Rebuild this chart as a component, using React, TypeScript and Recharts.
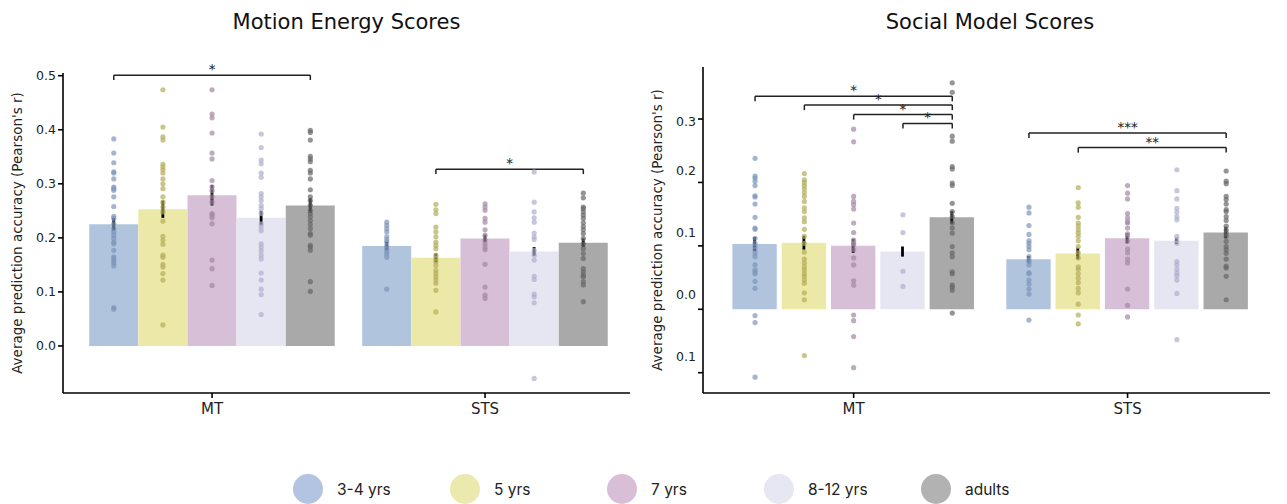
import React from "react";
import { Bar, Cell, ComposedChart, ErrorBar, ReferenceLine, Scatter, XAxis, YAxis } from "recharts";

const regions = ["MT", "STS"];
const groups = ["3-4 yrs", "5 yrs", "7 yrs", "8-12 yrs", "adults"];
const barColors = ["#b0c4de", "#ebe8a8", "#d8bfd8", "#e6e6f2", "#a9a9a9"];
const dotColors = ["#7d95ba", "#b3ae5a", "#a387a3", "#aeaecd", "#666666"];
const legendColors = ["#b3c3e2", "#ece9ae", "#d8bfd7", "#e7e7f4", "#b2b2b2"];

// Motion Energy Scores
const motionMeansMT = [0.225, 0.253, 0.279, 0.237, 0.26];
const motionMeansSTS = [0.185, 0.163, 0.199, 0.175, 0.191];
const motionSemMT = [0.012, 0.016, 0.019, 0.013, 0.014];
const motionSemSTS = [0.008, 0.008, 0.007, 0.008, 0.008];

const motionDotsMT = [
  [0.383, 0.357, 0.339, 0.322, 0.32, 0.309, 0.294, 0.291, 0.288, 0.276, 0.258, 0.24, 0.236, 0.226, 0.217, 0.211, 0.205, 0.199, 0.192, 0.189, 0.177, 0.165, 0.161, 0.157, 0.153, 0.148, 0.071, 0.068],
  [0.474, 0.405, 0.387, 0.381, 0.336, 0.331, 0.326, 0.32, 0.309, 0.3, 0.291, 0.276, 0.266, 0.257, 0.248, 0.231, 0.203, 0.196, 0.188, 0.168, 0.164, 0.151, 0.146, 0.134, 0.122, 0.039],
  [0.474, 0.429, 0.422, 0.394, 0.357, 0.346, 0.306, 0.294, 0.287, 0.276, 0.266, 0.245, 0.242, 0.237, 0.226, 0.159, 0.143, 0.112],
  [0.392, 0.367, 0.344, 0.337, 0.32, 0.312, 0.282, 0.276, 0.269, 0.26, 0.254, 0.245, 0.226, 0.22, 0.213, 0.189, 0.183, 0.176, 0.168, 0.161, 0.135, 0.122, 0.105, 0.095, 0.058],
  [0.399, 0.395, 0.381, 0.351, 0.346, 0.341, 0.325, 0.32, 0.309, 0.289, 0.276, 0.269, 0.26, 0.251, 0.245, 0.239, 0.232, 0.225, 0.217, 0.208, 0.205, 0.186, 0.183, 0.177, 0.119, 0.101],
];
const motionDotsSTS = [
  [0.229, 0.223, 0.217, 0.211, 0.202, 0.197, 0.192, 0.185, 0.18, 0.175, 0.17, 0.164, 0.105],
  [0.262, 0.252, 0.245, 0.22, 0.211, 0.202, 0.192, 0.186, 0.18, 0.168, 0.162, 0.156, 0.149, 0.14, 0.134, 0.128, 0.122, 0.116, 0.103, 0.063],
  [0.263, 0.257, 0.251, 0.236, 0.229, 0.215, 0.205, 0.196, 0.189, 0.183, 0.178, 0.151, 0.109, 0.094, 0.088],
  [0.322, 0.266, 0.248, 0.237, 0.229, 0.209, 0.202, 0.197, 0.177, 0.168, 0.159, 0.129, 0.123, 0.096, 0.091, 0.08, -0.06],
  [0.283, 0.274, 0.257, 0.254, 0.248, 0.242, 0.236, 0.228, 0.221, 0.215, 0.208, 0.199, 0.189, 0.18, 0.171, 0.162, 0.143, 0.137, 0.131, 0.128, 0.119, 0.113, 0.082],
];
const motionBrackets = [
  { region: 0, from: 0, to: 4, y: 0.501, label: "*" },
  { region: 1, from: 1, to: 4, y: 0.327, label: "*" },
];
const motionTicks = [0, 0.1, 0.2, 0.3, 0.4, 0.5];

// Social Model Scores
const socialMeansMT = [0.103, 0.105, 0.1, 0.091, 0.145];
const socialMeansSTS = [0.079, 0.088, 0.112, 0.108, 0.121];
const socialSemMT = [0.011, 0.011, 0.011, 0.008, 0.01];
const socialSemSTS = [0.005, 0.009, 0.008, 0.005, 0.009];

const socialDotsMT = [
  [0.238, 0.21, 0.207, 0.202, 0.195, 0.179, 0.177, 0.166, 0.145, 0.128, 0.126, 0.112, 0.104, 0.099, 0.094, 0.088, 0.083, 0.07, 0.062, 0.059, 0.056, 0.044, 0.033, -0.01, -0.021, -0.107],
  [0.214, 0.204, 0.2, 0.195, 0.19, 0.184, 0.178, 0.17, 0.16, 0.154, 0.144, 0.138, 0.126, 0.115, 0.104, 0.09, 0.079, 0.073, 0.067, 0.062, 0.056, 0.052, 0.046, 0.041, 0.026, 0.015, -0.073],
  [0.284, 0.264, 0.178, 0.17, 0.165, 0.158, 0.136, 0.121, 0.109, 0.104, 0.102, 0.094, 0.081, 0.07, 0.045, 0.038, -0.009, -0.018, -0.043, -0.092],
  [0.149, 0.121, 0.06, 0.036],
  [0.357, 0.342, 0.273, 0.265, 0.225, 0.221, 0.199, 0.195, 0.167, 0.154, 0.146, 0.136, 0.128, 0.12, 0.099, 0.089, 0.083, 0.059, 0.056, 0.038, 0.035, 0.03, -0.006],
];
const socialDotsSTS = [
  [0.161, 0.152, 0.132, 0.118, 0.108, 0.104, 0.099, 0.094, 0.083, 0.078, 0.075, 0.07, 0.058, 0.056, 0.046, 0.04, 0.032, 0.024, -0.017],
  [0.192, 0.168, 0.161, 0.145, 0.136, 0.131, 0.125, 0.12, 0.115, 0.108, 0.099, 0.089, 0.081, 0.067, 0.063, 0.056, 0.049, 0.042, 0.033, 0.026, 0.008, -0.009, -0.023],
  [0.195, 0.183, 0.174, 0.151, 0.144, 0.138, 0.136, 0.128, 0.119, 0.116, 0.108, 0.095, 0.089, 0.079, 0.073, 0.032, 0.006, -0.012],
  [0.22, 0.187, 0.174, 0.159, 0.153, 0.146, 0.141, 0.115, 0.109, 0.104, 0.075, 0.07, 0.063, 0.057, 0.053, 0.046, 0.025, -0.048],
  [0.218, 0.202, 0.198, 0.178, 0.173, 0.166, 0.157, 0.154, 0.146, 0.14, 0.131, 0.125, 0.12, 0.115, 0.107, 0.099, 0.094, 0.088, 0.079, 0.068, 0.065, 0.052, 0.015],
];
const socialBrackets = [
  { region: 0, from: 0, to: 4, y: 0.336, label: "*" },
  { region: 0, from: 1, to: 4, y: 0.322, label: "*" },
  { region: 0, from: 2, to: 4, y: 0.307, label: "*" },
  { region: 0, from: 3, to: 4, y: 0.293, label: "*" },
  { region: 1, from: 0, to: 4, y: 0.278, label: "***" },
  { region: 1, from: 1, to: 4, y: 0.255, label: "**" },
];
const socialTicks = [-0.1, 0, 0.1, 0.2, 0.3];

const STEP = 0.18;
const FONT = "DejaVu Sans, sans-serif";
const barX = (region, group) => region + (group - 2) * STEP;

// star text sitting just above the middle of a bracket
const starLabel = (text) => (props) => {
  const vb = props.viewBox || {};
  return (
    <text
      x={vb.x + (vb.width || 0) / 2}
      y={vb.y - 1}
      textAnchor="middle"
      fill="#222"
      fontSize={13.5}
      fontFamily={FONT}
    >
      {text}
    </text>
  );
};

function Panel({ means, sems, dots, brackets, yDomain, yTicks, xDomain, top, drop, barSize, fmt, shifts }) {
  const rows = [];
  const points = [];
  regions.forEach((r, ri) => {
    groups.forEach((g, gi) => {
      const x = barX(ri, gi);
      rows.push({ x, mean: means[ri][gi], err: sems[ri][gi], fill: barColors[gi] });
      dots[ri][gi].forEach((v) => points.push({ x, y: v, color: dotColors[gi] }));
    });
  });

  const yTick = (p) => (
    <text
      x={p.x}
      y={p.y}
      dy={4 + ((shifts && shifts[p.payload.value]) || 0)}
      textAnchor="end"
      fill="#222"
      fontSize={12.5}
      fontFamily={FONT}
    >
      {fmt(p.payload.value)}
    </text>
  );

  return (
    <ComposedChart
      width={640}
      height={430}
      data={rows}
      margin={{ top, right: 10, bottom: 7, left: 0 }}
      barGap={0}
      barCategoryGap={0}
    >
      <XAxis
        type="number"
        dataKey="x"
        domain={xDomain}
        ticks={[0, 1]}
        allowDataOverflow
        tickFormatter={(v) => regions[v]}
        axisLine={{ stroke: "#000", strokeWidth: 1.6 }}
        tickLine={{ stroke: "#000", strokeWidth: 1.6 }}
        tickSize={5}
        tickMargin={5}
        height={30}
        tick={{ fill: "#222", fontSize: 15, fontFamily: FONT }}
      />
      <YAxis
        type="number"
        domain={yDomain}
        ticks={yTicks}
        allowDataOverflow
        width={63}
        axisLine={{ stroke: "#000", strokeWidth: 1.6 }}
        tickLine={{ stroke: "#000", strokeWidth: 1.6 }}
        tickSize={5}
        tick={yTick}
        label={{
          value: "Average prediction accuracy (Pearson's r)",
          angle: -90,
          position: "insideLeft",
          offset: 17,
          style: { textAnchor: "middle", fontSize: 13.5, fontFamily: FONT, fill: "#222" },
        }}
      />
      <Bar dataKey="mean" barSize={barSize} isAnimationActive={false}>
        {rows.map((r, i) => (
          <Cell key={i} fill={r.fill} />
        ))}
        <ErrorBar dataKey="err" direction="y" width={0} stroke="#000" strokeWidth={2.8} />
      </Bar>
      <Scatter
        data={points}
        dataKey="y"
        isAnimationActive={false}
        shape={(p) => <circle cx={p.cx} cy={p.cy} r={2.6} fill={p.payload.color} fillOpacity={0.7} />}
      />
      {brackets.map((b, i) => {
        const x1 = barX(b.region, b.from);
        const x2 = barX(b.region, b.to);
        return (
          <React.Fragment key={i}>
            <ReferenceLine
              segment={[{ x: x1, y: b.y }, { x: x2, y: b.y }]}
              stroke="#222"
              strokeWidth={1.5}
              label={starLabel(b.label)}
            />
            <ReferenceLine segment={[{ x: x1, y: b.y }, { x: x1, y: b.y - drop }]} stroke="#222" strokeWidth={1.5} />
            <ReferenceLine segment={[{ x: x2, y: b.y }, { x: x2, y: b.y - drop }]} stroke="#222" strokeWidth={1.5} />
          </React.Fragment>
        );
      })}
    </ComposedChart>
  );
}

const titleStyle = {
  position: "absolute",
  top: 8,
  fontSize: 21,
  lineHeight: "28px",
  textAlign: "center",
  fontFamily: FONT,
  color: "#111",
} as const;

export default function App() {
  return (
    <div style={{ position: "absolute", left: 0, top: 0, width: 1287, height: 504, background: "#fff", overflow: "hidden" }}>
      <div style={{ ...titleStyle, left: 63, width: 567 }}>Motion Energy Scores</div>
      <div style={{ ...titleStyle, left: 703, width: 574 }}>Social Model Scores</div>
      <div style={{ position: "absolute", left: 0, top: 0 }}>
        <Panel
          means={[motionMeansMT, motionMeansSTS]}
          sems={[motionSemMT, motionSemSTS]}
          dots={[motionDotsMT, motionDotsSTS]}
          brackets={motionBrackets}
          yDomain={[-0.087, 0.505]}
          yTicks={motionTicks}
          xDomain={[-0.546, 1.531]}
          top={73}
          drop={0.009}
          barSize={49}
          fmt={(v) => v.toFixed(1)}
        />
      </div>
      <div style={{ position: "absolute", left: 640, top: 0 }}>
        <Panel
          means={[socialMeansMT, socialMeansSTS]}
          sems={[socialSemMT, socialSemSTS]}
          dots={[socialDotsMT, socialDotsSTS]}
          brackets={socialBrackets}
          yDomain={[-0.132, 0.382]}
          yTicks={socialTicks}
          xDomain={[-0.55, 1.52]}
          top={67}
          drop={0.008}
          barSize={50}
          fmt={(v) => Math.abs(v).toFixed(1)}
          shifts={{ 0.3: 3, 0.2: -11, 0.1: -13, 0: -14, "-0.1": -16 }}
        />
      </div>
      <div
        style={{
          position: "absolute",
          left: 293,
          top: 474,
          display: "flex",
          alignItems: "center",
          fontFamily: "Inter, sans-serif",
          fontSize: 15.5,
          color: "#222",
        }}
      >
        {groups.map((g, i) => (
          <div key={g} style={{ display: "flex", alignItems: "center", gap: 14, width: 157 }}>
            <div style={{ width: 30, height: 30, borderRadius: 15, background: legendColors[i] }} />
            <span>{g}</span>
          </div>
        ))}
      </div>
    </div>
  );
}
